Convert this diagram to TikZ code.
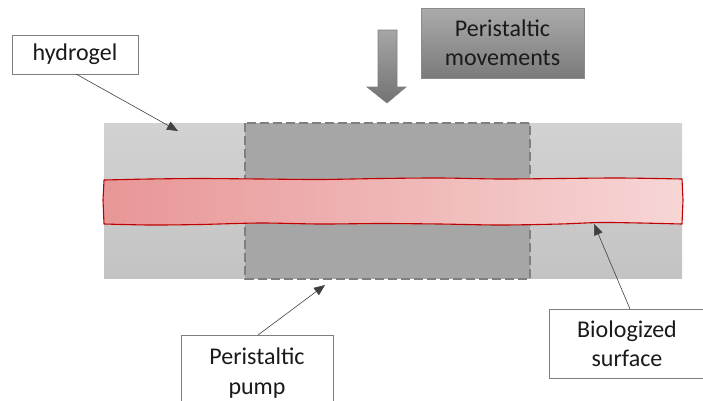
\documentclass[tikz,border=0pt]{standalone}
\usepackage{fontspec}
\setmainfont{Carlito}
\usetikzlibrary{arrows.meta}
\definecolor{gelA}{HTML}{D2D2D2}
\definecolor{gelB}{HTML}{C3C3C3}
\definecolor{pumpfill}{HTML}{A6A6A6}
\definecolor{pumpline}{HTML}{7F7F7F}
\definecolor{bandL}{HTML}{E89696}
\definecolor{bandR}{HTML}{F7D6D6}
\definecolor{bandline}{HTML}{C00000}
\definecolor{boxline}{HTML}{7F7F7F}
\definecolor{txt}{HTML}{1A1A1A}
\tikzset{
  label box/.style={draw=boxline, line width=0.8pt, fill=white, align=center,
    font=\fontsize{24}{29.5}\selectfont, text=txt, inner sep=0pt},
  pointer/.style={draw=black!75, line width=0.6pt,
    -{Triangle[length=11pt,width=9pt]}},
}
\begin{document}
\begin{tikzpicture}[x=1pt,y=-1pt]
\useasboundingbox (0,0) rectangle (703,400);
% hydrogel slab
\shade[top color=gelA, bottom color=gelB] (104,123) rectangle (682,278);
% pump region
\draw[fill=pumpfill, draw=pumpline, line width=1.6pt, dash pattern=on 9pt off 4pt] (245,123) rectangle (530,279);
% biologized band
\shade[left color=bandL, right color=bandR]
  plot[smooth] coordinates {(104,180) (150,179) (200,178.5) (260,179) (320,179.5) (380,178.5) (440,178) (500,179) (560,178.5) (620,178) (682,179)}
  -- (683,200) -- (682,224)
  -- plot[smooth] coordinates {(682,224) (640,223) (600,222.5) (560,224) (500,225) (440,224) (380,223.5) (320,224) (260,223) (200,224.5) (150,225) (104,224)}
  -- (103,200) -- cycle;
\draw[draw=bandline, line width=1.1pt, line join=round]
  plot[smooth] coordinates {(104,180) (150,179) (200,178.5) (260,179) (320,179.5) (380,178.5) (440,178) (500,179) (560,178.5) (620,178) (682,179)}
  -- (683,200) -- (682,224)
  -- plot[smooth] coordinates {(682,224) (640,223) (600,222.5) (560,224) (500,225) (440,224) (380,223.5) (320,224) (260,223) (200,224.5) (150,225) (104,224)}
  -- (103,200) -- cycle;
% down arrow
\shade[top color=black!35, bottom color=black!55, draw=black!50, line width=0.6pt]
  (378,30) -- (397,30) -- (397,87) -- (406,87) -- (387,103) -- (367,87) -- (378,87) -- cycle;
% movements box
\node[label box, draw=black!45, top color=black!33, bottom color=black!52,
  minimum width=163pt, minimum height=70pt] (mov) at (502.5,43) {Peristaltic\\movements};
% label boxes
\node[label box, minimum width=126pt, minimum height=39pt] (hyd) at (75,54.5) {hydrogel};
\node[label box, minimum width=152pt, minimum height=76pt] (pump) at (257,373) {Peristaltic\\pump};
\node[label box, minimum width=156pt, minimum height=69pt] (bio) at (627,343.5) {Biologized\\surface};
% targets
\coordinate (gelpt) at (178,131);
\coordinate (pumppt) at (325,285);
\coordinate (surfpt) at (594,224);
\coordinate (hydsrc) at (76,74);
\coordinate (pumpsrc) at (258,335);
\coordinate (biosrc) at (630,309);
\draw[pointer] (hydsrc) -- (gelpt);
\draw[pointer] (pumpsrc) -- (pumppt);
\draw[pointer] (biosrc) -- (surfpt);
\end{tikzpicture}
\end{document}
